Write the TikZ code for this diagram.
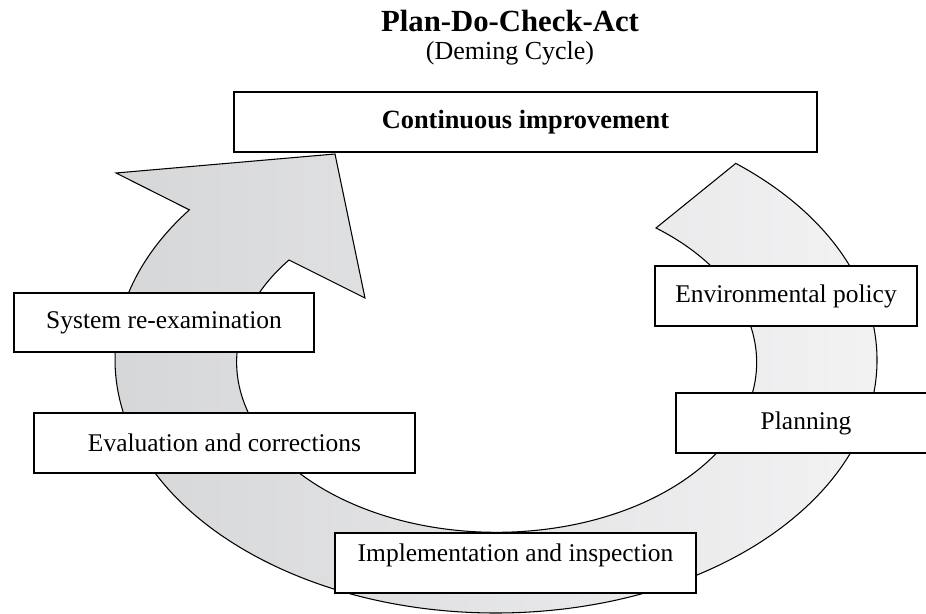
\documentclass[tikz,border=0pt]{standalone}
\usepackage{fontspec}
\setmainfont{Liberation Serif}
\definecolor{cycledark}{RGB}{212,213,215}
\definecolor{cyclelight}{RGB}{244,244,245}
\tikzset{
  stagebox/.style={draw, fill=white, line width=0.7pt, inner sep=0pt,
    minimum height=1.2cm, font=\fontsize{14.5}{17}\selectfont},
  cyclearrow/.style={draw, line width=0.6pt, line join=miter,
    left color=cycledark, right color=cyclelight}
}
\begin{document}
\begin{tikzpicture}[x=0.02cm,y=-0.02cm]
    \clip (0,0) rectangle (926,614);
    \node[anchor=base, font=\bfseries\fontsize{17.5}{21}\selectfont] (title) at (510,32) {Plan-Do-Check-Act};
    \node[anchor=base, font=\fontsize{14.8}{17}\selectfont] (subtitle) at (510,60) {(Deming Cycle)};
    % the big curved arrow
    \path[cyclearrow] (496,360) ++(-51:381 and 253)
        arc[start angle=-51, end angle=216.4, x radius=381, y radius=253]
        -- (116,173) -- (335,154) -- (365,298) -- (289,260)
        arc[start angle=217, end angle=-52.2, x radius=260, y radius=170]
        -- cycle;
    \node[stagebox, minimum width=11.66cm, font=\bfseries\fontsize{15}{18}\selectfont] (improve) at (525.5,122) {Continuous improvement};
    \node[stagebox, minimum width=5.24cm] (policy) at (786,296) {Environmental policy};
    \node[stagebox, minimum width=5.2cm] (planning) at (806,423) {Planning};
    \node[stagebox, minimum width=7.22cm, text depth=12pt] (implement) at (515.5,563) {Implementation and inspection};
    \node[stagebox, minimum width=7.62cm] (evaluate) at (224.5,443) {Evaluation and corrections};
    \node[stagebox, minimum width=6cm, minimum height=1.18cm] (reexamine) at (164,322.5) {System re-examination};
\end{tikzpicture}
\end{document}
